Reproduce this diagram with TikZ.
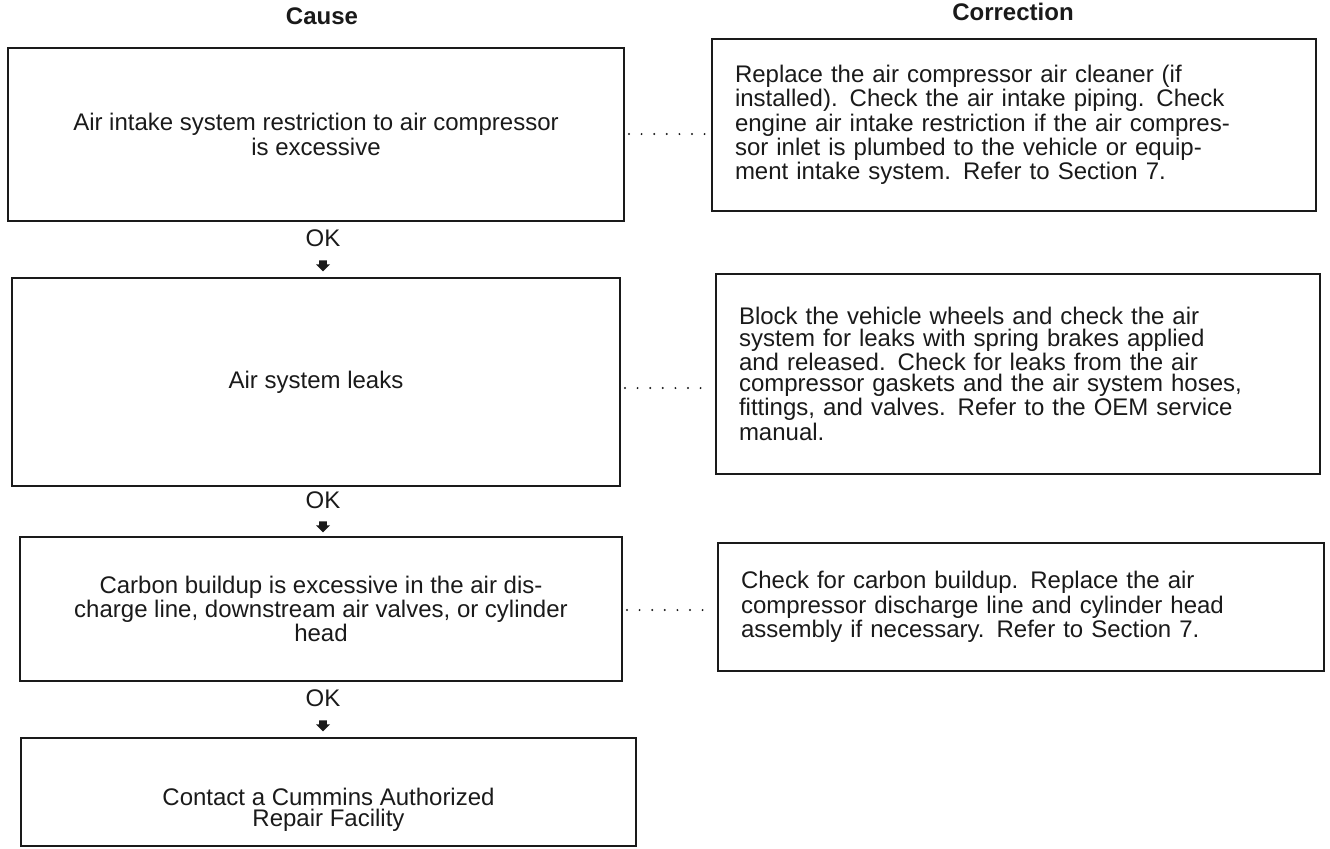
\documentclass[tikz,border=0pt]{standalone}
\usepackage{fontspec}
\setmainfont{Liberation Sans}
\usetikzlibrary{shapes.arrows}
\definecolor{ink}{HTML}{1A1A1A}

\begin{document}
\begin{tikzpicture}[x=.5pt,y=-.5pt,
  every node/.style={font=\fontsize{12}{10.6}\selectfont,text=ink},
  causebox/.style={draw=ink,line width=1pt,align=center,inner sep=0pt},
  fixbox/.style={draw=ink,line width=1pt,align=left,inner xsep=11.5pt,inner ysep=0pt},
  dotline/.style={ink,line width=1.1pt,line cap=round,dash pattern=on 0pt off 6.3pt,shorten <=2pt,shorten >=2pt},
  okarrow/.style={single arrow,fill=ink,shape border rotate=270,inner sep=1.6pt,minimum height=5.5pt,minimum width=7pt,single arrow head extend=1.5pt}]
\useasboundingbox (0,0) rectangle (1330,848);
\node[font=\bfseries\fontsize{12}{12.5}\selectfont] (hcause) at (322,16) {Cause};
\node[font=\bfseries\fontsize{12}{12.5}\selectfont] (hfix) at (1013,12) {Correction};
% cause column
\node[causebox,minimum width=308pt,minimum height=86.5pt] (c1) at (316,134.5)
  {Air intake system restriction to air compressor\\is excessive};
\node[causebox,minimum width=304pt,minimum height=104pt] (c2) at (316,382) {Air system leaks};
\node[causebox,minimum width=301pt,minimum height=72pt] (c3) at (321,609)
  {Carbon buildup is excessive in the air dis-\\charge line, downstream air valves, or cylinder\\head};
\node[causebox,minimum width=307.5pt,minimum height=54pt] (c4) at (328.5,792) {};
\node[align=center] (c4t) at (328.5,810) {Contact a Cummins Authorized\\Repair Facility};
% correction column
\node[fixbox,text width=279pt,minimum height=86pt] (r1) at (1014,125)
  {Replace the air compressor air cleaner (if\\installed). Check the air intake piping. Check\\engine air intake restriction if the air compres-\\sor inlet is plumbed to the vehicle or equip-\\ment intake system. Refer to Section 7.};
\node[fixbox,text width=279pt,minimum height=100pt] (r2) at (1018,374)
  {Block the vehicle wheels and check the air\\system for leaks with spring brakes applied\\and released. Check for leaks from the air\\compressor gaskets and the air system hoses,\\fittings, and valves. Refer to the OEM service\\manual.};
\node[fixbox,text width=280pt,minimum height=64pt] (r3) at (1021,607)
  {Check for carbon buildup. Replace the air\\compressor discharge line and cylinder head\\assembly if necessary. Refer to Section 7.};
% OK steps
\node (ok1) at (323,238) {OK};
\node[okarrow] (a1) at (323,264) {};
\node (ok2) at (323,500) {OK};
\node[okarrow] (a2) at (323,525) {};
\node (ok3) at (323,698) {OK};
\node[okarrow] (a3) at (323,724) {};
% dotted links
\coordinate (d1) at (0,134);
\coordinate (d2) at (0,388);
\coordinate (d3) at (0,610);
\draw[dotline] (c1.east |- d1) -- (r1.west |- d1);
\draw[dotline] (c2.east |- d2) -- (r2.west |- d2);
\draw[dotline] (c3.east |- d3) -- (r3.west |- d3);
\end{tikzpicture}
\end{document}
